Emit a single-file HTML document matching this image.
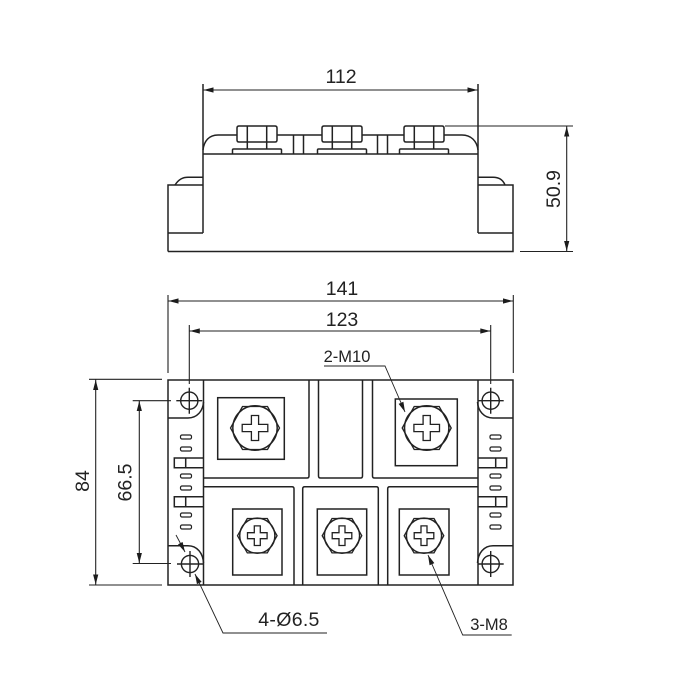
<!DOCTYPE html>
<html><head><meta charset="utf-8"><style>
html,body{margin:0;padding:0;background:#fff;width:700px;height:700px;overflow:hidden}
svg{display:block}
text{font-family:"Liberation Sans",sans-serif;fill:#222}
</style></head><body>
<svg width="700" height="700" viewBox="0 0 700 700" xmlns="http://www.w3.org/2000/svg">
<defs>
<filter id="b" x="0" y="0" width="700" height="700" filterUnits="userSpaceOnUse"><feGaussianBlur stdDeviation="0.35"/></filter>
<g id="big" fill="none" stroke="#222" stroke-width="1.3">
<path d="M24.5 0L12.5 21.5H-12.5L-24.5 0L-12.5-21.5H12.5Z"/>
<circle r="22.2" stroke-width="1.5"/>
<path d="M-3.6-12.5H3.6V-3.6H12.8V3.6H3.6V12.5H-3.6V3.6H-12.8V-3.6H-3.6Z"/>
</g>
<g id="small" fill="none" stroke="#222" stroke-width="1.3">
<path d="M19.8 0L10 17.2H-10L-19.8 0L-10-17.2H10Z"/>
<circle r="17.6" stroke-width="1.5"/>
<path d="M-3-9.8H3V-3H9.8V3H3V9.8H-3V3H-9.8V-3H-3Z"/>
</g>
<g id="hole" fill="none" stroke="#222" stroke-width="1.4">
<circle r="8.6"/><path d="M-13 0H13M0-13V13"/>
</g>
<g id="nut" fill="none" stroke="#222" stroke-width="1.5">
<path d="M-18 -16H18Q20-16 20-14V-2Q20 0 18 0H-18Q-20 0-20-2V-14Q-20-16-18-16Z"/>
<path d="M-9.700-16V7M9.700-16V7M-24.500 12V8Q-24.500 7-23.500 7H23.500Q24.500 7 24.500 8V12"/>
</g>
<path id="ah" d="M0 0L-10-2.600V2.600Z" fill="#1a1a1a"/>
</defs>
<g filter="url(#b)">
<g fill="none" stroke="#222" stroke-width="1.5">
<!-- side view -->
<path d="M203 84V233M478 84V233"/>
<path d="M168 251.500H513V185H478M478 233H513M168 251.500V185H203M168 233H203"/>
<path d="M203 154H478"/>
<path d="M203 150C204 141 209 135 218 135H237M277 135H322M362 135H404M444 135H462C471 135 477 141 478 150"/>
<path d="M293.500 135V154M303.500 135V154M377.500 135V154M387.500 135V154"/>
<path d="M175 185C179 179 183 177.300 188 177.300H203M478 177.300H493C499 177.300 503 180 505 185"/>
<use href="#nut" x="257" y="142"/>
<use href="#nut" x="342" y="142"/>
<use href="#nut" x="424" y="142"/>
<!-- plan outer -->
<path d="M168 380H513V585H168Z"/>
<path d="M203.500 380V585M478 380V585"/>
<!-- panels -->
<path d="M204 478H307Q309 478 309 476V380"/>
<path d="M318.500 380V476Q318.500 478 320.500 478H360.500Q362.500 478 362.500 476V380"/>
<path d="M372.500 380V476Q372.500 478 374.500 478H478"/>
<path d="M204 486.700H292Q294 486.700 294 488.700V585"/>
<path d="M302.700 585V488.700Q302.700 486.700 304.700 486.700H376.300Q378.300 486.700 378.300 488.700V585"/>
<path d="M387.700 585V488.700Q387.700 486.700 389.700 486.700H478"/>
<!-- squares -->
<rect x="217.700" y="397.700" width="66.600" height="61.600"/>
<rect x="395.300" y="399" width="62" height="66.700"/>
<rect x="232.700" y="509" width="49.300" height="66"/>
<rect x="317.300" y="509" width="49.400" height="66"/>
<rect x="399.300" y="509" width="49.700" height="66"/>
<!-- corner tabs -->
<path d="M168 418H188C197 418 203 411 203.500 402"/>
<path d="M168 545.700H188C197 545.700 203 553 203.500 563"/>
<path d="M513 418H493C484 418 478 411 477.500 402"/>
<path d="M513 545.700H493C484 545.700 478 553 477.500 563"/>
<!-- terminals -->
<path d="M203.500 458H174.300V467.700H203.500M185.700 458V467.700"/>
<path d="M203.500 496.700H174.300V506.700H203.500M185.700 496.700V506.700"/>
<path d="M478 458H506.700V467.700H478M495.700 458V467.700"/>
<path d="M478 496.700H506.700V506.700H478M495.700 496.700V506.700"/>
<g stroke-width="1.200">
<rect x="180.500" y="435" width="11" height="4" rx="1.500"/><rect x="180.500" y="447" width="11" height="4" rx="1.500"/>
<rect x="180.500" y="474" width="11" height="4" rx="1.500"/><rect x="180.500" y="486" width="11" height="4" rx="1.500"/>
<rect x="180.500" y="513" width="11" height="4" rx="1.500"/><rect x="180.500" y="525" width="11" height="4" rx="1.500"/>
<rect x="490" y="435" width="11" height="4" rx="1.500"/><rect x="490" y="447" width="11" height="4" rx="1.500"/>
<rect x="490" y="474" width="11" height="4" rx="1.500"/><rect x="490" y="486" width="11" height="4" rx="1.500"/>
<rect x="490" y="513" width="11" height="4" rx="1.500"/><rect x="490" y="525" width="11" height="4" rx="1.500"/>
</g>
</g>
<use href="#big" x="255" y="428"/>
<use href="#big" x="426.700" y="428"/>
<use href="#small" x="257.300" y="535.700"/>
<use href="#small" x="342" y="535.700"/>
<use href="#small" x="424" y="535.700"/>
<use href="#hole" x="189.300" y="400.700"/>
<use href="#hole" x="490.700" y="400.700"/>
<use href="#hole" x="190" y="564"/>
<use href="#hole" x="490.700" y="564"/>
<!-- dimensions -->
<g fill="none" stroke="#222" stroke-width="1.100">
<path d="M203 90H478"/>
<path d="M445 126H573M520 251.500H573M566.700 126V251.500"/>
<path d="M168 295V373M513.300 295V373M168 301H513.300"/>
<path d="M189.300 325V384M490.700 325V384M189.300 331H490.700"/>
<path d="M89 379.300H162M89 585H162M95.700 379.300V585"/>
<path d="M132.700 400.700H171M132.700 563.500H171M139.300 400.700V563.500"/>
<path d="M324 366H385L405 412" stroke-width="0.900"/>
<path d="M327 633H223L195 574" stroke-width="0.900"/>
<path d="M176 535L185 552" stroke-width="0.900"/>
<path d="M511.700 635H462.700L428 555" stroke-width="0.900"/>
</g>
<use href="#ah" transform="translate(203.500 90) rotate(180)"/>
<use href="#ah" transform="translate(477.500 90)"/>
<use href="#ah" transform="translate(566.700 126.500) rotate(-90)"/>
<use href="#ah" transform="translate(566.700 251) rotate(90)"/>
<use href="#ah" transform="translate(168.500 301) rotate(180)"/>
<use href="#ah" transform="translate(513 301)"/>
<use href="#ah" transform="translate(189.800 331) rotate(180)"/>
<use href="#ah" transform="translate(490.300 331)"/>
<use href="#ah" transform="translate(95.700 380) rotate(-90)"/>
<use href="#ah" transform="translate(95.700 584.500) rotate(90)"/>
<use href="#ah" transform="translate(139.300 401) rotate(-90)"/>
<use href="#ah" transform="translate(139.300 563) rotate(90)"/>
<use href="#ah" transform="translate(405 412) rotate(66.500)"/>
<use href="#ah" transform="translate(195 574) rotate(-115.400)"/>
<use href="#ah" transform="translate(185 552) rotate(62)"/>
<use href="#ah" transform="translate(428 555) rotate(-113.400)"/>
<text x="341" y="83" font-size="19.500" text-anchor="middle">112</text>
<text x="342" y="295" font-size="19.500" text-anchor="middle">141</text>
<text x="342" y="326" font-size="19.500" text-anchor="middle">123</text>
<text x="347" y="362" font-size="16.500" text-anchor="middle">2-M10</text>
<text x="289" y="626" font-size="19.500" letter-spacing="0.300" text-anchor="middle">4-Ø6.5</text>
<text x="489" y="630" font-size="16.500" text-anchor="middle">3-M8</text>
<text transform="translate(560 189) rotate(-90)" font-size="19.500" text-anchor="middle">50.9</text>
<text transform="translate(89 481) rotate(-90)" font-size="19.500" text-anchor="middle">84</text>
<text transform="translate(131.700 482.500) rotate(-90)" font-size="19.500" text-anchor="middle">66.5</text>
</g>
</svg>
</body></html>
